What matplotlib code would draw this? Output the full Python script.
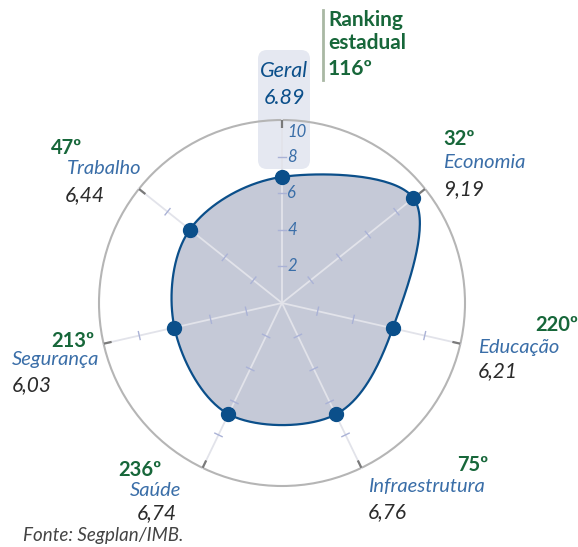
import numpy as np
import matplotlib
matplotlib.use("Agg")
import matplotlib.pyplot as plt
from matplotlib.patches import FancyBboxPatch, Circle
from matplotlib.transforms import Affine2D

# ---------------- data ----------------
categories = ["Geral", "Economia", "Educação", "Infraestrutura", "Saúde", "Segurança", "Trabalho"]
values = [6.89, 9.19, 6.21, 6.76, 6.74, 6.03, 6.44]
value_labels = ["6.89", "9,19", "6,21", "6,76", "6,74", "6,03", "6,44"]
rankings = ["116º", "32º", "220º", "75º", "236º", "213º", "47º"]
r_ticks = [2, 4, 6, 8, 10]
r_max = 10
source = "Fonte: Segplan/IMB."

# ---------------- style ----------------
W, H = 578, 547
CX, CY = 282, 303          # centre in pixels
PX_PER_UNIT = 18.3
BLUE = "#0b4f8a"
LBLUE = "#3a6ea8"
GREEN = "#17673a"
FILL = "#c5c9d7"
DARK = "#2b2b2b"
FONT = "Lato"

fig = plt.figure(figsize=(W / 100, H / 100), dpi=100)
ax = fig.add_axes([0, 0, 1, 1])
ax.set_xlim(-CX / PX_PER_UNIT, (W - CX) / PX_PER_UNIT)
ax.set_ylim(-(H - CY) / PX_PER_UNIT, CY / PX_PER_UNIT)
ax.axis("off")

# transform for pixel layout positions (origin top-left)
T = Affine2D().scale(1 / W, -1 / H).translate(0, 1) + fig.transFigure

n = len(categories)
theta = np.deg2rad(90 - np.arange(n) * 360 / n)
vals = np.array(values)
xs = vals * np.cos(theta)
ys = vals * np.sin(theta)


def catmull_rom_closed(px, py, steps=40):
    pts = np.column_stack([px, py])
    m = len(pts)
    out = []
    for i in range(m):
        p0, p1, p2, p3 = pts[(i - 1) % m], pts[i], pts[(i + 1) % m], pts[(i + 2) % m]
        t = np.linspace(0, 1, steps, endpoint=False)[:, None]
        seg = 0.5 * ((2 * p1) + (-p0 + p2) * t + (2 * p0 - 5 * p1 + 4 * p2 - p3) * t ** 2
                     + (-p0 + 3 * p1 - 3 * p2 + p3) * t ** 3)
        out.append(seg)
    out = np.vstack(out)
    out = np.vstack([out, out[:1]])
    return out[:, 0], out[:, 1]


sx, sy = catmull_rom_closed(xs, ys)

# Geral highlight box (behind everything)
box = FancyBboxPatch((258, 50), 52, 119, boxstyle="round,pad=0,rounding_size=9",
                     transform=T, facecolor="#e5e8f1", edgecolor="none", zorder=0)
ax.add_patch(box)

# outer circle
ax.add_patch(Circle((0, 0), r_max, facecolor="none", edgecolor="#b5b5b5", lw=1.5, zorder=1))

# filled shape
ax.fill(sx, sy, color=FILL, zorder=2, lw=0)

# axes spokes and ticks
for th in theta:
    c, s = np.cos(th), np.sin(th)
    ax.plot([0, r_max * c], [0, r_max * s], color="#e2e3ea", lw=1.3, zorder=3)
    ax.plot([(r_max - 0.45) * c, r_max * c], [(r_max - 0.45) * s, r_max * s],
            color="#7a7a7a", lw=1.6, zorder=3, solid_capstyle="butt")
    for r in r_ticks[:-1]:
        px_, py_ = -s * 0.22, c * 0.22
        ax.plot([r * c - px_, r * c + px_], [r * s - py_, r * s + py_],
                color="#aab2d6", lw=1.0, zorder=3)

# outline and points
ax.plot(sx, sy, color=BLUE, lw=1.6, zorder=4)
ax.plot(xs, ys, "o", color=BLUE, ms=10, zorder=5)

# radial tick labels on Geral axis
for r in r_ticks:
    yl = r if r < r_max else r - 0.65
    ax.text(0.3, yl, str(r), color=LBLUE, fontsize=12, fontstyle="italic",
            family=FONT, ha="left", va="center", zorder=6)

# Geral label
ax.text(284, 71, categories[0], transform=T, color=BLUE, fontsize=15.5, fontstyle="italic",
        family=FONT, ha="center", va="center", zorder=6)
ax.text(284, 98, value_labels[0], transform=T, color=BLUE, fontsize=15.5, fontstyle="italic",
        family=FONT, ha="center", va="center", zorder=6)

# Ranking estadual
ax.plot([323, 323], [10, 80], transform=T, color="#a9b8a4", lw=2, zorder=6)
for txt, yy in (("Ranking", 20), ("estadual", 43), (rankings[0], 69)):
    ax.text(328, yy, txt, transform=T, color=GREEN, fontsize=15, fontweight="bold",
            family=FONT, ha="left", va="center")

# category labels (rank, name, value) positions in pixels
label_pos = {
    1: ((443, 139), (443, 163), (443, 189)),
    2: ((535, 325), (478, 347), (478, 371)),
    3: ((457, 465), (368, 487), (368, 512)),
    4: ((118, 470), (130, 491), (137, 513)),
    5: ((51, 341), (12, 360), (12, 385)),
    6: ((51, 148), (67, 169), (65, 195)),
}
for i, (rp, npos, vp) in label_pos.items():
    ax.text(*rp, rankings[i], transform=T, color=GREEN, fontsize=14.5, fontweight="bold",
            family=FONT, ha="left", va="center")
    ax.text(*npos, categories[i], transform=T, color=LBLUE, fontsize=14.5, fontstyle="italic",
            family=FONT, ha="left", va="center")
    ax.text(*vp, value_labels[i], transform=T, color=DARK, fontsize=15, fontstyle="italic",
            family=FONT, ha="left", va="center")

ax.text(23, 535, source, transform=T, color="#444444", fontsize=13.5, fontstyle="italic",
        family=FONT, ha="left", va="center")

fig.savefig("out.png", dpi=100)
